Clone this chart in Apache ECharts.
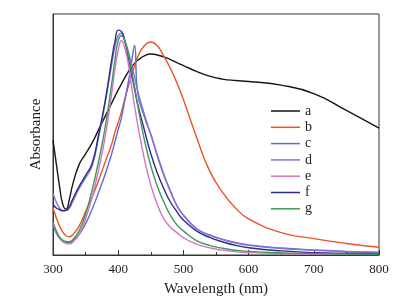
<!DOCTYPE html>
<html>
	<head>
		<meta charset="utf-8">
		<title>Absorbance</title>
		<style>
			html, body { margin: 0; padding: 0; background: #fff; }
			#main { width: 408px; height: 304px; }
		</style>
	</head>
	<body>
		<div id="main"></div>
		<script src="https://cdn.jsdelivr.net/npm/echarts@6/dist/echarts.min.js"></script>
		<script type="text/javascript">
			// wavelength (nm), shared by all curves
			var wavelengths = [300, 305, 310, 315, 320, 325, 330, 340, 350, 360, 370, 380, 390, 395, 400, 405, 410, 415, 420, 425, 430,
				440, 450, 460, 470, 480, 490, 500, 520, 540, 560, 580, 600, 650, 700, 750, 800];
			var xTicks = [300, 400, 500, 600, 700, 800];
			var names = ['a', 'b', 'c', 'd', 'e', 'f', 'g'];

			// absorbance, arbitrary units
			var aAbs = [47.7, 38, 28.5, 21, 19, 23, 29, 37.5, 42, 46.5, 52, 57.5, 63, 65.8, 68.5, 71, 73.5, 75.8, 77.8, 79.5, 80.8,
				82.6, 83.4, 83, 82.2, 81.1, 79.8, 78.6, 76.2, 74.2, 73, 72.4, 72, 70.5, 67, 60, 52.6];
			var bAbs = [19.5, 15.5, 12, 9.5, 8, 7.6, 8.3, 12, 18, 24, 31, 38.5, 46, 51, 55, 59.5, 64.5, 69.5, 74, 78.5, 82.3,
				86.8, 88.4, 86.8, 82.5, 77.5, 71.5, 64.5, 49, 35, 26, 19.5, 15, 9.3, 6.8, 4.8, 3.2];
			var cAbs = [12.5, 9, 7, 5.8, 5.2, 5.2, 5.8, 8.5, 13, 19, 26, 33.5, 42, 47, 52, 57, 64, 71, 79, 87, 67,
				57.5, 50, 41.5, 33.5, 26.5, 20.5, 16.5, 11, 8.3, 6.5, 5.2, 4.2, 2.9, 2.1, 1.5, 1.2];
			var dAbs = [25.5, 22, 19.5, 18.5, 18.5, 19.5, 22, 27.5, 32, 37, 49, 63, 79, 86.5, 91, 92, 89, 85, 79.5, 74, 68,
				58.5, 50, 41, 33, 26.5, 20.5, 16.5, 11, 8.3, 6.5, 5, 4, 2.7, 2, 1.4, 1];
			var eAbs = [13, 9.5, 7, 5.5, 4.8, 4.6, 5.2, 8.5, 15, 24, 35.5, 49, 67, 77, 85, 89, 86, 80, 71, 62, 54,
				40, 29, 21, 15, 11.5, 9.3, 7.2, 4.5, 3, 2, 1.4, 1, 0.6, 0.4, 0.3, 0.2];
			var fAbs = [21, 19.5, 18.8, 18.3, 18.5, 20, 23, 28.5, 33, 38, 50, 64, 81, 88.5, 93.3, 92.8, 89, 83, 76, 69, 62.5,
				52, 42, 34, 27.5, 22, 18, 14.5, 10, 7.3, 5.5, 4, 3, 1.7, 1, 0.7, 0.5];
			var gAbs = [13.5, 10, 7.5, 6.2, 5.6, 5.5, 6.2, 10, 17, 27, 39, 53, 71, 81, 89, 91, 89, 84, 77, 70, 62,
				48, 37, 28.5, 22, 16.5, 12.5, 10, 6, 4, 2.8, 2, 1.5, 0.9, 0.6, 0.4, 0.3];

			var curves = [aAbs, bAbs, cAbs, dAbs, eAbs, fAbs, gAbs];
			var colors = ['#161616', '#ec5428', '#5a6cd6', '#8d6fd2', '#d673c8', '#2b2e86', '#3f9a55'];
			var serif = '"Liberation Serif", "DejaVu Serif", serif';

			function pairs(values) {
				return wavelengths.map(function (w, i) { return [w, values[i]]; });
			}

			var myChart = echarts.init(document.getElementById('main'));
			var option = {
				animation: false,
				backgroundColor: '#fff',
				grid: {
					left: 53, right: 29, top: 14, bottom: 49,
					show: true, borderColor: '#333', borderWidth: 1
				},
				legend: {
					data: names,
					orient: 'vertical',
					left: 266, top: 99,
					icon: 'rect',
					itemWidth: 29, itemHeight: 1.5,
					itemGap: 2.3,
					textStyle: { fontFamily: serif, fontSize: 14, color: '#222', lineHeight: 14 }
				},
				xAxis: {
					type: 'value',
					min: 300, max: 800, interval: 100,
					name: 'Wavelength (nm)',
					nameLocation: 'middle',
					nameGap: 27,
					nameTextStyle: { fontFamily: serif, fontSize: 15, color: '#222' },
					axisLine: { lineStyle: { color: '#333' } },
					axisTick: { inside: true, length: 5, lineStyle: { color: '#333' } },
					minorTick: { show: true, splitNumber: 2, length: 3, lineStyle: { color: '#333' } },
					axisLabel: {
						fontFamily: serif, fontSize: 13, color: '#222', margin: 8,
						formatter: function (v) { return xTicks.indexOf(v) >= 0 ? String(v) : ''; }
					},
					splitLine: { show: false }
				},
				yAxis: {
					type: 'value',
					min: 0, max: 100,
					name: 'Absorbance',
					nameLocation: 'middle',
					nameGap: 9,
					nameTextStyle: { fontFamily: serif, fontSize: 15, color: '#222' },
					axisLine: { show: true, lineStyle: { color: '#333' } },
					axisTick: { show: false },
					axisLabel: { show: false },
					splitLine: { show: false }
				},
				series: names.map(function (n, i) {
					return {
						name: n,
						type: 'line',
						data: pairs(curves[i]),
						smooth: 0.5,
						showSymbol: false,
						color: colors[i],
						lineStyle: { width: 1.4, color: colors[i] }
					};
				})
			};
			myChart.setOption(option);
		</script>
	</body>
</html>
